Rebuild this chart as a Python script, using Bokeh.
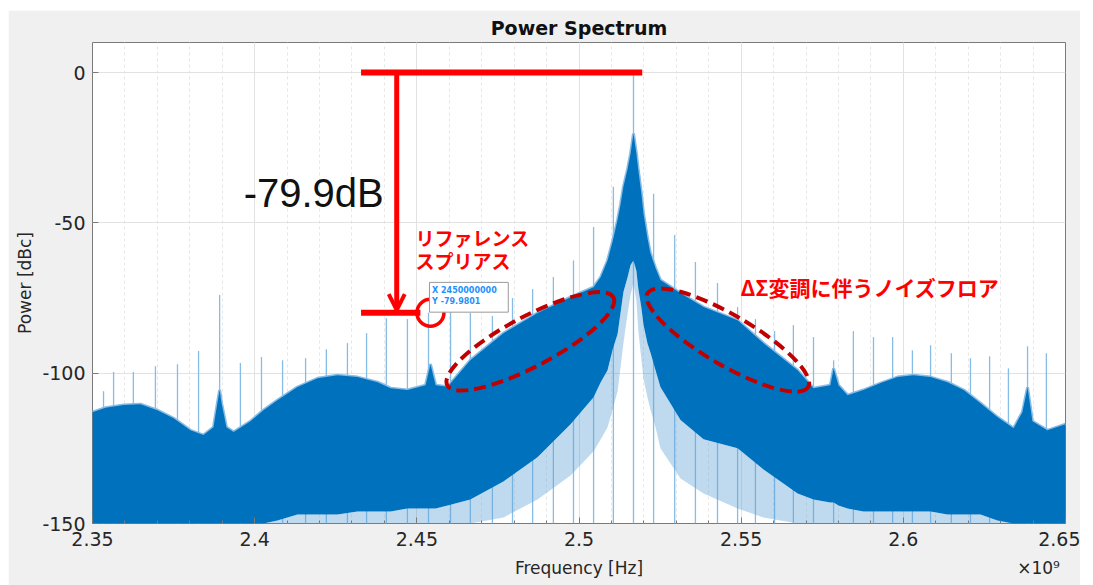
from bokeh.plotting import figure
from bokeh.models import Range1d, FixedTicker, LinearAxis, Label, Arrow, OpenHead, ColumnDataSource
from bokeh.embed import file_html
from bokeh.resources import INLINE

# ---------------- data ----------------
freq_ghz = [2.3500, 2.3540, 2.3596, 2.3648, 2.3700, 2.3750, 2.3802, 2.3842, 2.3873, 2.3885,
            2.3892, 2.3898, 2.3913, 2.3935, 2.3987, 2.4027, 2.4070, 2.4132, 2.4194, 2.4255,
            2.4317, 2.4379, 2.4419, 2.4471, 2.4527, 2.4542, 2.4558, 2.4595, 2.4665, 2.4767,
            2.4872, 2.4974, 2.5045, 2.5067, 2.5088, 2.5104, 2.5119, 2.5128, 2.5137, 2.5150,
            2.5159, 2.5168, 2.5177, 2.5183, 2.5192, 2.5199, 2.5211, 2.5220, 2.5236, 2.5251,
            2.5313, 2.5384, 2.5489, 2.5569, 2.5674, 2.5723, 2.5775, 2.5785, 2.5800, 2.5828,
            2.5877, 2.5930, 2.5982, 2.6031, 2.6084, 2.6136, 2.6186, 2.6238, 2.6290, 2.6340,
            2.6367, 2.6383, 2.6398, 2.6444, 2.6500]
upper_db = [-113.0, -111.5, -110.6, -110.3, -112.3, -115.0, -119.0, -120.6, -118.0, -110.0,
            -105.6, -110.0, -118.0, -119.6, -116.0, -112.3, -109.0, -104.6, -101.7, -100.7,
            -101.3, -103.0, -105.0, -105.6, -104.0, -97.0, -104.0, -104.5, -95.7, -86.7,
            -80.0, -74.7, -71.4, -68.0, -62.5, -56.0, -49.0, -44.0, -38.0, -32.0,
            -27.0, -20.3, -27.0, -32.6, -40.0, -47.0, -55.0, -60.0, -65.0, -69.0,
            -73.4, -78.0, -82.4, -90.0, -99.0, -105.0, -104.0, -98.4, -104.0, -107.3,
            -105.6, -103.3, -101.3, -100.7, -101.3, -103.0, -105.6, -110.0, -114.6, -118.3,
            -113.0, -104.7, -116.0, -119.0, -117.0]
lower_db = [-150.0, -150.0, -150.0, -150.0, -150.0, -150.0, -150.0, -150.0, -150.0, -150.0,
            -150.0, -150.0, -150.0, -150.0, -150.0, -150.0, -149.0, -147.0, -147.0, -147.0,
            -146.0, -146.0, -146.0, -145.0, -145.0, -145.0, -145.0, -144.0, -142.0, -136.0,
            -128.0, -117.0, -108.0, -103.0, -99.0, -92.0, -87.0, -80.0, -73.0, -68.0,
            -64.0, -62.5, -66.0, -72.0, -78.0, -84.0, -90.0, -93.0, -99.0, -104.6,
            -115.6, -122.0, -125.0, -132.0, -140.0, -142.0, -143.0, -143.0, -144.0, -145.0,
            -146.0, -146.0, -146.0, -146.0, -146.0, -147.0, -147.0, -147.0, -149.0, -150.0,
            -150.0, -150.0, -150.0, -150.0, -150.0]
fringe_low_db = [-150.0, -150.0, -150.0, -150.0, -150.0, -150.0, -150.0, -150.0, -150.0, -150.0,
                 -150.0, -150.0, -150.0, -150.0, -150.0, -150.0, -150.0, -150.0, -150.0, -150.0,
                 -150.0, -150.0, -150.0, -150.0, -150.0, -150.0, -150.0, -150.0, -150.0, -148.0,
                 -142.0, -134.0, -126.0, -122.0, -118.0, -112.0, -106.0, -98.0, -90.0, -80.0,
                 -74.0, -70.0, -76.0, -86.0, -95.0, -102.0, -108.0, -112.0, -118.0, -125.0,
                 -135.0, -140.0, -145.0, -148.0, -150.0, -150.0, -150.0, -150.0, -150.0, -150.0,
                 -150.0, -150.0, -150.0, -150.0, -150.0, -150.0, -150.0, -150.0, -150.0, -150.0,
                 -150.0, -150.0, -150.0, -150.0, -150.0]

spur_freq_ghz = [2.3534, 2.3565, 2.3626, 2.3694, 2.3762, 2.3827, 2.3892, 2.3956, 2.4021, 2.4086,
                 2.4157, 2.4221, 2.4286, 2.4345, 2.4406, 2.4471, 2.4536, 2.4604, 2.4665, 2.4733,
                 2.4795, 2.4857, 2.4921, 2.4983, 2.5045, 2.5106, 2.5168, 2.5230, 2.5295, 2.5359,
                 2.5427, 2.5489, 2.5544, 2.5603, 2.5661, 2.5723, 2.5785, 2.5846, 2.5908, 2.5967,
                 2.6028, 2.6084, 2.6148, 2.6207, 2.6266, 2.6324, 2.6383, 2.6441]
spur_top_db = [-106.0, -99.6, -99.6, -97.7, -97.0, -92.6, -74.0, -96.6, -94.6, -95.7,
               -95.0, -92.0, -90.0, -86.7, -81.7, -82.0, -79.9, -79.6, -80.0, -81.0,
               -75.0, -72.0, -68.0, -62.5, -51.4, -38.0, 0.0, -40.3, -54.0, -63.0,
               -70.0, -78.0, -82.0, -86.0, -84.0, -88.0, -95.7, -86.0, -88.0, -88.0,
               -92.4, -90.7, -93.4, -95.0, -94.4, -98.4, -91.0, -93.4]

x_ticks = [2.35, 2.4, 2.45, 2.5, 2.55, 2.6, 2.65]
x_tick_labels = ["2.35", "2.4", "2.45", "2.5", "2.55", "2.6", "2.65"]
y_ticks = [0, -50, -100, -150]
y_tick_labels = ["0", "-50", "-100", "-150"]
x_minor = [round(2.35 + 0.01 * i, 2) for i in range(31)]

# ---------------- figure ----------------
p = figure(width=1072, height=575, x_range=Range1d(2.35, 2.65), y_range=Range1d(-150, 10),
           output_backend="svg", toolbar_location=None,
           min_border_left=84, min_border_right=15, min_border_top=32, min_border_bottom=62,
           background_fill_color="white", border_fill_color="#F0F0F0",
           outline_line_color="#7a7a7a", outline_line_width=1)
p.margin = (10, 13, 0, 8)

TXT = "#262626"
FONT = "DejaVu Sans"

p.title.text = "Power Spectrum"
p.title.align = "center"
p.title.vertical_align = "middle"
p.title.text_font = FONT
p.title.text_font_size = "19px"
p.title.text_font_style = "bold"
p.title.text_color = "#111111"
p.title.standoff = 6

xt = FixedTicker(ticks=x_ticks, minor_ticks=x_minor)
yt = FixedTicker(ticks=y_ticks, minor_ticks=[])
p.xaxis.ticker = xt
p.yaxis.ticker = yt
p.xaxis.major_label_overrides = dict(zip(x_ticks, x_tick_labels))
p.yaxis.major_label_overrides = dict(zip(y_ticks, y_tick_labels))
for ax in (p.xaxis, p.yaxis):
    ax.axis_line_color = None
    ax.major_tick_in = 6
    ax.major_tick_out = 0
    ax.minor_tick_in = 3
    ax.minor_tick_out = 0
    ax.major_tick_line_color = "#7a7a7a"
    ax.minor_tick_line_color = "#7a7a7a"
    ax.major_label_text_font = FONT
    ax.major_label_text_font_size = "19px"
    ax.major_label_text_color = TXT
    ax.axis_label_text_font = FONT
    ax.axis_label_text_font_size = "17px"
    ax.axis_label_text_font_style = "normal"
    ax.axis_label_text_color = TXT
p.yaxis.axis_label = "Power [dBc]"
p.xaxis.major_label_standoff = 8
p.yaxis.major_label_standoff = 7
p.yaxis.axis_label_standoff = 4

# second row under the x axis: axis title and the exponent
label_ticks = [2.5, 2.6417]
label_texts = ["Frequency [Hz]", "×10⁹"]
lab_axis = LinearAxis(ticker=FixedTicker(ticks=label_ticks, minor_ticks=[]),
                      major_label_overrides=dict(zip(label_ticks, label_texts)))
lab_axis.axis_line_color = None
lab_axis.major_tick_line_color = None
lab_axis.minor_tick_line_color = None
lab_axis.major_label_standoff = 3
lab_axis.major_label_text_font = FONT
lab_axis.major_label_text_font_size = "17px"
lab_axis.major_label_text_color = TXT
p.add_layout(lab_axis, "below")

p.xgrid.ticker = xt
p.ygrid.ticker = yt
p.xgrid.grid_line_color = "#e2e2e2"
p.ygrid.grid_line_color = "#e2e2e2"
p.xgrid.minor_grid_line_color = "#e6e6e6"
p.xgrid.minor_grid_line_dash = "3 3"

# ---------------- spectrum ----------------
spurs = ColumnDataSource(dict(f=spur_freq_ghz, top=spur_top_db))
p.segment(x0="f", y0=-150, x1="f", y1="top", source=spurs, line_color="#86BCE6", line_width=1.3)

spec = ColumnDataSource(dict(f=freq_ghz, up=upper_db, lo=lower_db, flo=fringe_low_db))
p.varea(x="f", y1="flo", y2="lo", source=spec, fill_color="#5FA3D8", fill_alpha=0.4)
p.line(x="f", y="up", source=spec, line_color="#86BCE6", line_width=3)
p.varea(x="f", y1="lo", y2="up", source=spec, fill_color="#0072BD")

# ---------------- annotations ----------------
RED = "#FF0000"
p.segment(x0=[2.4328], y0=[0], x1=[2.5195], y1=[0], line_color=RED, line_width=6, line_cap="butt")
p.segment(x0=[2.4328], y0=[-79.9], x1=[2.4511], y1=[-79.9], line_color=RED, line_width=6, line_cap="butt")
p.add_layout(Arrow(end=OpenHead(size=16, line_color=RED, line_width=4),
                   x_start=2.4438, y_start=0, x_end=2.4438, y_end=-79.0,
                   line_color=RED, line_width=5))
p.scatter(x=[2.4542], y=[-79.9], marker="circle", size=27, fill_color=None,
          line_color=RED, line_width=3.5)

# data tip
p.quad(left=[2.4539], right=[2.4782], top=[-69.8], bottom=[-79.7], fill_color="white",
       line_color="#9a9a9a", line_width=1)
p.add_layout(Label(x=2.4547, y=-72.5, text="X 2450000000", text_font=FONT, text_font_size="8px",
                   text_color="#1E90FF", text_font_style="bold", text_baseline="middle"))
p.add_layout(Label(x=2.4547, y=-76.3, text="Y -79.9801", text_font=FONT, text_font_size="8px",
                   text_color="#1E90FF", text_font_style="bold", text_baseline="middle"))

# dashed ellipses
p.ellipse(x=[2.4850], y=[-89.4], width=[188], height=[50], angle=[0.487],
          width_units="screen", height_units="screen", fill_color=None,
          line_color="#C00000", line_width=4, line_dash="12 6")
p.ellipse(x=[2.5459], y=[-89.0], width=[186], height=[50], angle=[-0.529],
          width_units="screen", height_units="screen", fill_color=None,
          line_color="#C00000", line_width=4, line_dash="12 6")

p.add_layout(Label(x=2.3966, y=-39.9, text="-79.9dB", text_font="Liberation Sans",
                   text_font_size="40px", text_color="#111111", text_baseline="middle"))
JP = "Noto Sans CJK JP"
p.add_layout(Label(x=2.4496, y=-54.8, text="リファレンス", text_font=JP, text_font_size="19px",
                   text_font_style="bold", text_color=RED, text_baseline="middle"))
p.add_layout(Label(x=2.4496, y=-62.5, text="スプリアス", text_font=JP, text_font_size="19px",
                   text_font_style="bold", text_color=RED, text_baseline="middle"))
p.add_layout(Label(x=2.5498, y=-71.4, text="ΔΣ変調に伴うノイズフロア", text_font=JP,
                   text_font_size="21px", text_font_style="bold", text_color=RED,
                   text_baseline="middle"))

open("out.html", "w").write(file_html(p, INLINE))
